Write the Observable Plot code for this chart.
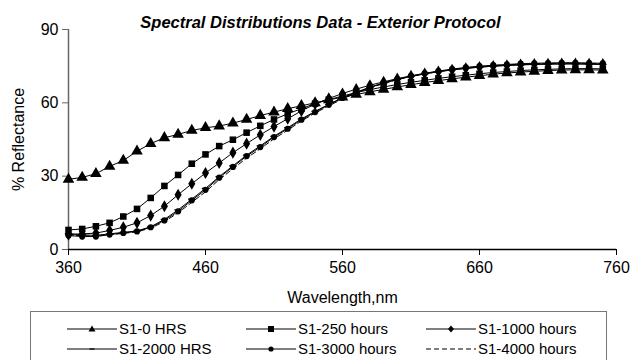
<!DOCTYPE html>
<html><head><meta charset="utf-8">
<script src="https://cdn.jsdelivr.net/npm/d3@7"></script>
<script src="https://cdn.jsdelivr.net/npm/@observablehq/plot@0.6"></script>
<style>
body{margin:0;background:#fff;font-family:"Liberation Sans",Arial,sans-serif;}
#wrap{position:relative;width:633px;height:360px;overflow:hidden;}
#legend{position:absolute;left:30px;top:311px;width:577px;height:60px;border:1px solid #777;box-sizing:border-box;}
.item{position:absolute;height:16px;font-size:15px;line-height:16px;color:#000;white-space:nowrap;}
.item svg{vertical-align:middle;margin-right:2px;}
.item span{vertical-align:middle;}
</style></head>
<body><div id="wrap"><div id="chart"></div><div id="legend"></div></div>
<script>
const title = "Spectral Distributions Data - Exterior Protocol";
const xLabel = "Wavelength,nm";
const yLabel = "% Reflectance";
const xTicks = [360, 460, 560, 660, 760];
const yTicks = [0, 30, 60, 90];
const seriesNames = ["S1-0 HRS", "S1-250 hours", "S1-1000 hours", "S1-2000 HRS", "S1-3000 hours", "S1-4000 hours"];
const wavelength = [360,370,380,390,400,410,420,430,440,450,460,470,480,490,500,510,520,530,540,550,560,570,580,590,600,610,620,630,640,650,660,670,680,690,700,710,720,730,740,750];
const s0 = [28.7,29.5,31.0,34.0,36.4,40.2,43.3,45.7,47.1,48.7,49.8,50.5,51.7,53.2,54.8,56.2,57.6,58.8,60.0,61.2,62.3,63.4,64.5,65.5,66.5,67.4,68.3,69.1,69.8,70.5,71.1,71.7,72.2,72.6,72.9,73.2,73.4,73.5,73.5,73.4];
const s250 = [8.0,8.4,9.5,10.9,13.5,16.6,21.1,26.0,30.5,35.1,38.9,42.3,44.9,47.8,50.6,53.2,55.5,57.6,59.7,61.3,62.8,64.2,65.4,66.5,67.5,68.4,69.2,70.0,70.7,71.3,71.9,72.4,72.8,73.2,73.5,73.7,73.9,74.0,74.0,73.9];
const s1000 = [6.1,6.4,6.7,7.8,9.1,10.9,13.9,17.7,22.4,26.9,31.3,35.4,39.6,43.3,46.9,50.3,53.5,56.7,59.5,61.8,63.8,65.6,67.2,68.6,69.9,71.0,72.0,72.8,73.5,74.1,74.6,75.0,75.3,75.6,75.8,75.9,76.0,76.0,75.9,75.8];
const s2000 = [6.5,6.0,5.8,6.4,7.0,7.6,9.3,12.3,16.2,20.6,25.0,29.8,34.2,38.6,42.4,46.3,49.8,53.4,56.5,59.4,62.1,64.3,66.3,68.0,69.5,70.8,71.8,72.7,73.5,74.1,74.6,75.0,75.3,75.5,75.7,75.8,75.9,75.9,75.8,75.7];
const s3000 = [5.7,5.3,5.3,6.1,6.8,7.4,9.1,11.9,15.6,20.1,24.4,29.4,33.8,38.2,41.9,46.0,49.4,53.1,56.2,59.2,62.0,64.3,66.4,68.2,69.7,71.0,72.1,73.0,73.8,74.5,75.0,75.4,75.7,76.0,76.2,76.3,76.4,76.4,76.3,76.2];
const s4000 = [6.0,5.6,5.5,6.0,6.6,7.2,8.8,11.4,15.0,19.3,23.6,28.6,33.0,37.4,41.2,45.3,48.8,52.6,55.8,58.8,61.6,64.0,66.1,67.9,69.5,70.8,71.9,72.8,73.6,74.3,74.8,75.2,75.5,75.8,76.0,76.1,76.2,76.2,76.1,76.0];

const dash = {draw(ctx, size){ const w = Math.sqrt(size)*0.7; ctx.rect(-w, -0.6, 2*w, 1.2); }};
const styles = [
  {vals: s0, symbol: "triangle", r: 4.3, dash: null},
  {vals: s250, symbol: "square", r: 3.7, dash: null},
  {vals: s1000, symbol: "diamond", r: 3.7, dash: null},
  {vals: s2000, symbol: dash, r: 3, dash: null},
  {vals: s3000, symbol: "circle", r: 3.1, dash: null},
  {vals: s4000, symbol: null, r: 0, dash: "5,3"}
];
const rows = [];
styles.forEach((s, i) => s.vals.forEach((v, j) => rows.push({series: seriesNames[i], x: wavelength[j], y: v})));

const marks = [];
styles.forEach((s, i) => {
  const d = rows.filter(r => r.series === seriesNames[i]);
  marks.push(Plot.line(d, {x: "x", y: "y", stroke: "#000", strokeWidth: 1, strokeDasharray: s.dash}));
});
styles.forEach((s, i) => {
  if (!s.symbol) return;
  const d = rows.filter(r => r.series === seriesNames[i]);
  marks.push(Plot.dot(d, {x: "x", y: "y", symbol: () => s.symbol, r: s.r, fill: "#000", stroke: "none"}));
});

const chart = Plot.plot({
  width: 633, height: 310,
  marginTop: 29, marginLeft: 68, marginRight: 17, marginBottom: 61,
  x: {domain: [360, 760]},
  y: {domain: [0, 90]},
  symbol: {type: "identity"},
  style: {fontFamily: "'Liberation Sans', Arial, sans-serif", fontSize: "16px", color: "#000", background: "transparent", overflow: "visible"},
  marks: [
    Plot.ruleX([360], {y1: 0, y2: 90, stroke: "#666", strokeWidth: 1.5}),
    Plot.ruleY([0], {x1: 360, x2: 760, stroke: "#000", strokeWidth: 1.5}),
    Plot.axisX({ticks: xTicks, tickSize: 6, tickPadding: 6, tickFormat: d => String(d), fontSize: 16, label: xLabel, labelAnchor: "center", labelArrow: "none", labelOffset: 53}),
    Plot.axisY({ticks: yTicks, tickSize: 6, tickPadding: 4, fontSize: 16, stroke: "#666", label: yLabel, labelAnchor: "center", labelArrow: "none", labelOffset: 56}),
    ...marks,
    Plot.text([title], {frameAnchor: "top", lineAnchor: "middle", dx: -22, dy: -7, fontWeight: "bold", fontStyle: "italic", fontSize: 16.5})
  ]
});
document.getElementById("chart").appendChild(chart);

// legend
const legend = document.getElementById("legend");
const pos = [[36, 8], [215, 8], [395, 8], [36, 28], [215, 28], [395, 28]];
const sym = [
  '<path d="M25,2.5 L28.5,8.5 L21.5,8.5 Z" fill="#000"/>',
  '<rect x="22" y="3" width="6" height="6" fill="#000"/>',
  '<path d="M25,2.5 L28,6 L25,9.5 L22,6 Z" fill="#000"/>',
  '<rect x="22.5" y="5.4" width="5" height="1.2" fill="#000"/>',
  '<circle cx="25" cy="6" r="2.6" fill="#000"/>',
  ''
];
seriesNames.forEach((name, i) => {
  const div = document.createElement("div");
  div.className = "item";
  div.style.left = pos[i][0] + "px";
  div.style.top = pos[i][1] + "px";
  const dashAttr = i === 5 ? ' stroke-dasharray="5,3"' : '';
  div.innerHTML = `<svg width="50" height="12"><line x1="0" y1="6" x2="50" y2="6" stroke="#000" stroke-width="1"${dashAttr}/>${sym[i]}</svg><span>${name}</span>`;
  legend.appendChild(div);
});
</script></body></html>
